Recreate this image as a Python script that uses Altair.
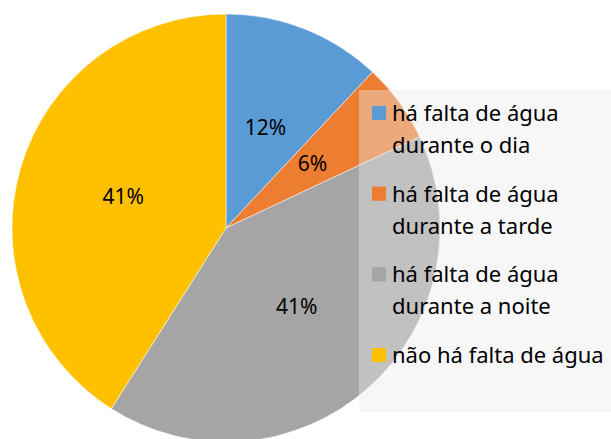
import altair as alt
import pandas as pd

categories = [
    "há falta de água\ndurante o dia",
    "há falta de água\ndurante a tarde",
    "há falta de água\ndurante a noite",
    "não há falta de água",
]
values = [12, 6, 41, 41]
labels = ["12%", "6%", "41%", "41%"]
colors = ["#5B9BD5", "#ED7D31", "#A5A5A5", "#FFC000"]

df = pd.DataFrame({"cat": categories, "val": values, "lab": labels, "ord": list(range(len(values)))})

FONT = "Noto Sans"
color_scale = alt.Scale(domain=categories, range=colors)

base = alt.Chart(df).encode(
    theta=alt.Theta("val:Q", stack=True),
    order=alt.Order("ord:Q"),
)

pie = base.mark_arc(stroke="white", strokeWidth=0.5).encode(
    x=alt.value(226),
    y=alt.value(228),
    radius=alt.value(214),
    color=alt.Color("cat:N", scale=color_scale, legend=None),
)

text = base.mark_text(font=FONT, fontSize=21, color="#000000").encode(
    x=alt.value(226),
    y=alt.value(228),
    radius=alt.value(107),
    text="lab:N",
)

# legend box (semi-transparent, overlapping the pie as in the reference)
legend_bg = alt.Chart(pd.DataFrame({"box": [0]})).mark_rect(fill="#EBEBEB", opacity=0.4).encode(
    x=alt.value(359), x2=alt.value(640), y=alt.value(90), y2=alt.value(412)
)

legend_y = alt.Y(
    "cat:N",
    scale=alt.Scale(domain=categories, range=[113, 355], padding=0),
    axis=None,
)

legend_sq = alt.Chart(df).mark_square(size=200, opacity=1).encode(
    x=alt.value(379),
    y=legend_y,
    color=alt.Color("cat:N", scale=color_scale, legend=None),
)

legend_txt = alt.Chart(df).mark_text(
    font=FONT, fontSize=22, color="#000000", align="left", baseline="alphabetic",
    lineBreak="\n", lineHeight=32, dy=8,
).encode(
    x=alt.value(392),
    y=legend_y,
    text="cat:N",
)

chart = alt.layer(pie, text, legend_bg, legend_sq, legend_txt).properties(
    width=611, height=439,
    autosize=alt.AutoSizeParams(type="none"),
    padding=0,
).configure_view(stroke=None)

chart.save("out.html", embed_options={"renderer": "svg", "actions": False})
